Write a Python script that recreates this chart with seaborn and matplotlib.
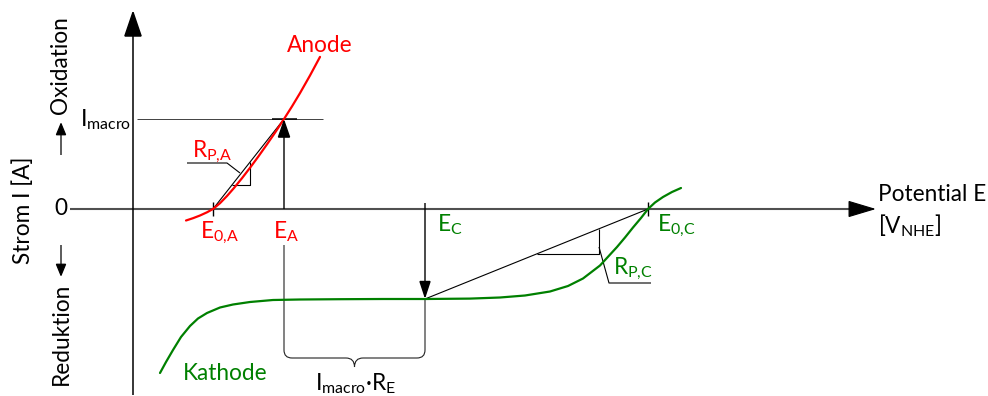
import numpy as np
import pandas as pd
import matplotlib
matplotlib.use("Agg")
import matplotlib.pyplot as plt
from matplotlib.patches import FancyArrowPatch, PathPatch
from matplotlib.path import Path
import seaborn as sns

# --- characteristic values (potential E, current I; diagram units) ---
E0_A = 80        # rest potential anode
E_A = 151        # anode working potential
E_C = 292        # cathode working potential
E0_C = 515       # rest potential cathode
I_macro = 90     # macro-cell current

# anode polarisation curve
anode_E = [53, 60, 67, 74, 80, 87, 94, 101, 109, 117, 125, 134, 142, 151, 159, 167, 177, 187]
anode_I = [-11.5, -9.2, -6.5, -3.3, 0, 5.8, 13.0, 21.0, 30.8, 41.2, 52.0, 64.7, 76.3, 90,
           102.6, 115.9, 133.5, 152.1]

# cathode polarisation curve
kathode_E = [27, 33, 40, 48, 57, 65, 74, 87, 100, 117, 140, 167, 207, 250, 292, 337, 367,
             392, 417, 435, 450, 467, 484, 492, 500, 508, 515, 522, 530, 539, 548]
kathode_I = [-164, -153, -141, -128, -117, -109.5, -104, -98.5, -95.5, -93, -91, -90.5,
             -90.2, -90, -90, -89.6, -88.5, -86.5, -82.5, -77, -69.5, -56.5, -38, -28.5,
             -18.5, -9, 0, 6.5, 12, 17, 21]

RED = "#ff0000"
GREEN = "#008000"
FS = 16.3

sns.set_style("white")
plt.rcParams["font.family"] = ["Lato", "DejaVu Sans"]
plt.rcParams["mathtext.fontset"] = "custom"
plt.rcParams["mathtext.rm"] = "Lato"
plt.rcParams["mathtext.it"] = "Lato:italic"
plt.rcParams["mathtext.bf"] = "Lato:bold"

fig = plt.figure(figsize=(9.88, 3.96), dpi=100)
ax = fig.add_axes([0, 0, 1, 1])
ax.set_xlim(-133, 855)
ax.set_ylim(-187, 209)
ax.axis("off")

curves = pd.concat([
    pd.DataFrame({"E": anode_E, "I": anode_I, "Elektrode": "Anode"}),
    pd.DataFrame({"E": kathode_E, "I": kathode_I, "Elektrode": "Kathode"}),
])
sns.lineplot(data=curves, x="E", y="I", hue="Elektrode", units="Elektrode",
             estimator=None, sort=False, legend=False, lw=1.6,
             palette={"Anode": RED, "Kathode": GREEN}, ax=ax, zorder=3)


def arrow(p0, p1, hl, hw, lw, color="black", z=4):
    ax.add_patch(FancyArrowPatch(
        p0, p1, arrowstyle=f"-|>,head_length={hl},head_width={hw}",
        mutation_scale=1, lw=lw, color=color, shrinkA=0, shrinkB=0,
        joinstyle="miter", capstyle="butt", zorder=z))


def seg(xs, ys, lw=0.8, color="black", z=2):
    ax.plot(xs, ys, color=color, lw=lw, solid_capstyle="butt", zorder=z)


# coordinate axes: grey potential axis with a black head, black current axis
seg([-63, 722], [0, 0], lw=1.5, color="#505050", z=1)
arrow((718, 0), (743, 0), 18, 5.4, 0.8, z=1)
arrow((0, -186), (0, 199), 17, 5.8, 1.1, z=1)

# direction arrows beside the current axis
arrow((-72, 54), (-72, 87), 8, 3.3, 0.9)
arrow((-72, -36), (-72, -68), 8, 3.3, 0.9)

# macro-cell current level and anode operating point
seg([4, 190], [I_macro, I_macro], lw=0.6, color="#222222")
seg([139, 164], [I_macro, I_macro], lw=1.1)
arrow((E_A, 0), (E_A, I_macro), 11.5, 4.0, 1.0)

# polarisation resistance of the anode (slope triangle)
seg([E0_A, E_A], [0, I_macro])
rA_lo, rA_E = 24, 117
rA_hi = I_macro * (rA_E - E0_A) / (E_A - E0_A)
rA_left = E0_A + rA_lo * (E_A - E0_A) / I_macro
seg([rA_left, rA_E, rA_E], [rA_lo, rA_lo, rA_hi])
seg([107, 94, 54], [36, 46, 46])
seg([E0_A, E0_A], [-7, 7], lw=1.0)

# cathode operating point and polarisation line
arrow((E_C, 6), (E_C, -I_macro), 11, 3.6, 1.0)
seg([E_C, E0_C], [-I_macro, 0])
rC_left, rC_E = 404, 466
rC_lo = -I_macro + I_macro * (rC_left - E_C) / (E0_C - E_C)
rC_hi = -I_macro + I_macro * (rC_E - E_C) / (E0_C - E_C)
seg([rC_left, rC_E, rC_E], [rC_lo, rC_lo, rC_hi])
seg([466, 476, 518], [-38, -74, -74])
seg([E0_C, E0_C], [-7, 7], lw=1.0)

# curly brace spanning the ohmic drop between E_A and E_C
yb, r = -149, 8
mid = (E_A + E_C) / 2
verts = [(E_A, -36), (E_A, yb + r), (E_A, yb), (E_A + r, yb), (mid - 8.5, yb),
         (mid, yb), (mid, yb - 9), (mid, yb), (mid + 8.5, yb), (E_C - r, yb),
         (E_C, yb), (E_C, yb + r), (E_C, -I_macro)]
codes = [Path.MOVETO, Path.LINETO, Path.CURVE3, Path.CURVE3, Path.LINETO,
         Path.CURVE3, Path.CURVE3, Path.CURVE3, Path.CURVE3, Path.LINETO,
         Path.CURVE3, Path.CURVE3, Path.LINETO]
ax.add_patch(PathPatch(Path(verts, codes), fill=False, lw=0.8, ec="#222222", zorder=2))

# labels
def label(x, y, s, color="black", **kw):
    kw.setdefault("ha", "left")
    kw.setdefault("va", "baseline")
    ax.text(x, y, s, color=color, fontsize=FS, **kw)

label(-110, -1, "Strom I [A]", rotation=90, ha="center", va="center")
label(-72, 144, "Oxidation", rotation=90, ha="center", va="center")
label(-72, -125, "Reduktion", rotation=90, ha="center", va="center")
label(-72, 0, "0", ha="center", va="center")
label(-53, 83, r"$\mathrm{I_{macro}}$")
label(154, 157, "Anode", RED)
label(50, -171, "Kathode", GREEN)
label(59, 52, r"$\mathrm{R_{P{,}A}}$", RED)
label(67, -29, r"$\mathrm{E_{0{,}A}}$", RED)
label(140, -29, r"$\mathrm{E_{A}}$", RED)
label(304, -22, r"$\mathrm{E_{C}}$", GREEN)
label(524, -22, r"$\mathrm{E_{0{,}C}}$", GREEN)
label(480, -65, r"$\mathrm{R_{P{,}C}}$", GREEN)
label(182, -181, r"$\mathrm{I_{macro}}$·$\mathrm{R_{E}}$")
label(745, 8, "Potential E")
label(745, -24, r"[$\mathrm{V_{NHE}}$]")

fig.savefig("out.png", dpi=100)
